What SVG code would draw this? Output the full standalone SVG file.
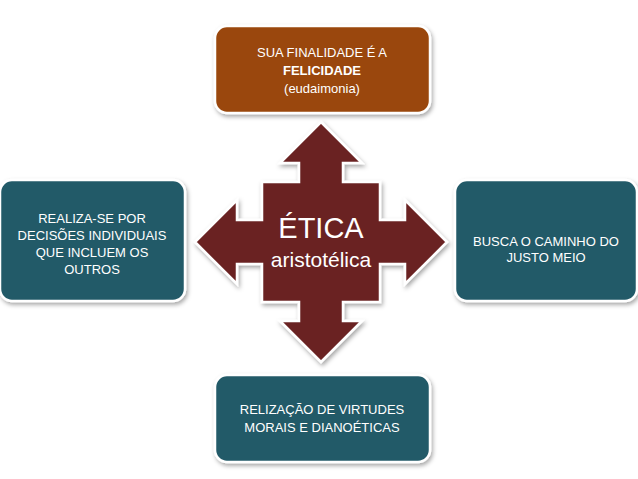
<svg xmlns="http://www.w3.org/2000/svg" width="638" height="479" viewBox="0 0 638 479">
<defs>
<filter id="sh" x="-10%" y="-10%" width="125%" height="130%">
<feDropShadow dx="1.5" dy="2.5" stdDeviation="2" flood-color="#000" flood-opacity="0.35"/>
</filter>
</defs>
<style>
.box{stroke:#fff;stroke-width:2.5;filter:url(#sh)}
.teal{fill:#235A68}
.brown{fill:#9A4708}
.t{font-family:"Liberation Sans",Arial,sans-serif;font-size:13px;fill:#fff;text-anchor:middle}
.c{font-family:"Liberation Sans",Arial,sans-serif;fill:#fff;text-anchor:middle}
</style>
<rect width="638" height="479" fill="#fff"/>
<g id="connectors">
<path id="cross" d="M321,122 L362,163 L343,163 L343,182 L380,182 L380,220 L405,220 L405,200 L447,242 L405,284 L405,264 L380,264 L380,302 L343,302 L343,321 L362,321 L321,362 L280,321 L299,321 L299,302 L262,302 L262,264 L237,264 L237,284 L195,242 L237,200 L237,220 L262,220 L262,182 L299,182 L299,163 L280,163 Z" fill="#6B2424" stroke="#fff" stroke-width="2.5" stroke-linejoin="miter" filter="url(#sh)"/>
</g>
<g id="center">
<text class="c" x="321" y="238" font-size="29">ÉTICA</text>
<text class="c" x="321" y="267" font-size="21">aristotélica</text>
</g>
<g id="top">
<rect class="box brown" x="215" y="26" width="215" height="87" rx="12"/>
<text class="t" x="322" y="57">SUA FINALIDADE É A</text>
<text class="t" x="322" y="75" font-weight="bold">FELICIDADE</text>
<text class="t" x="322" y="93">(eudaimonia)</text>
</g>
<g id="left">
<rect class="box teal" x="0" y="180" width="185" height="121" rx="12"/>
<text class="t" x="92" y="223">REALIZA-SE POR</text>
<text class="t" x="92" y="240">DECISÕES INDIVIDUAIS</text>
<text class="t" x="92" y="257">QUE INCLUEM OS</text>
<text class="t" x="92" y="274">OUTROS</text>
</g>
<g id="right">
<rect class="box teal" x="455" y="180" width="182" height="121" rx="12"/>
<text class="t" x="546" y="246">BUSCA O CAMINHO DO</text>
<text class="t" x="546" y="262">JUSTO MEIO</text>
</g>
<g id="bottom">
<rect class="box teal" x="215" y="375" width="215" height="87" rx="12"/>
<text class="t" x="322" y="414">RELIZAÇÃO DE VIRTUDES</text>
<text class="t" x="322" y="432">MORAIS E DIANOÉTICAS</text>
</g>
</svg>
